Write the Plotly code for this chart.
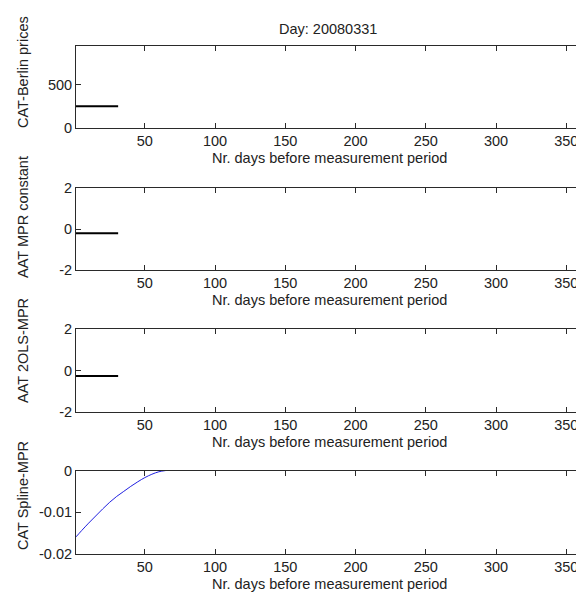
import plotly.graph_objects as go
from plotly.subplots import make_subplots

# ---- data ----
title_text = "Day: 20080331"
x_label = "Nr. days before measurement period"
y_labels = ["CAT-Berlin prices", "AAT MPR constant", "AAT 2OLS-MPR", "CAT Spline-MPR"]

price_days = [1, 31]
price_vals = [252, 252]

aat_const_days = [1, 31]
aat_const_vals = [-0.21, -0.21]

aat_2ols_days = [1, 31]
aat_2ols_vals = [-0.26, -0.26]

spline_days = [1, 5, 10, 15, 20, 25, 30, 35, 40, 45, 50, 55, 60, 65]
spline_vals = [-0.0159, -0.0144, -0.0126, -0.0109, -0.0092, -0.0076, -0.0062,
               -0.0050, -0.0038, -0.0027, -0.0017, -0.0009, -0.0003, 0.0]

y_ranges = [[0, 950], [-2, 2], [-2, 2], [-0.02, 0]]
y_ticks = [[0, 500], [-2, 0, 2], [-2, 0, 2], [-0.02, -0.01, 0]]
y_ticktext = [["0", "500"], ["-2", "0", "2"], ["-2", "0", "2"], ["-0.02", "-0.01", "0"]]
x_ticks = [50, 100, 150, 200, 250, 300, 350]

# ---- layout geometry (pixels) ----
W, H = 576, 593
L = 76
panel_px = [(46, 128), (188, 270), (329, 412), (470.5, 554)]
ylabel_centers = [72, 217, 351, 496]
FONT = "Liberation Sans, Arial, sans-serif"
FS = 14.5
TXT = "#222222"
AX = "#2a2a2a"

def py(p):
    return 1 - p / H

def px(p):
    return (p - L) / (W - L)

fig = make_subplots(rows=4, cols=1)

series = [
    (price_days, price_vals, "black", 2, "linear"),
    (aat_const_days, aat_const_vals, "black", 2, "linear"),
    (aat_2ols_days, aat_2ols_vals, "black", 2, "linear"),
    (spline_days, spline_vals, "#2020e0", 1, "spline"),
]
for i, (xs, ys, col, w, shp) in enumerate(series):
    fig.add_trace(go.Scatter(x=xs, y=ys, mode="lines",
                             line=dict(color=col, width=w, shape=shp),
                             showlegend=False),
                  row=i + 1, col=1)

annotations = []
for i in range(4):
    top, bot = panel_px[i]
    xa = "xaxis" if i == 0 else f"xaxis{i+1}"
    ya = "yaxis" if i == 0 else f"yaxis{i+1}"
    fig.layout[xa].update(
        domain=[0, 1], range=[1, 1 + (W - L) / 1.4047], automargin=False,
        tickvals=x_ticks, ticktext=[str(v) for v in x_ticks],
        ticklabeloverflow="allow",
        ticks="inside", ticklen=5, tickcolor=AX, tickwidth=1,
        showline=True, linecolor=AX, linewidth=1, mirror="ticks",
        showgrid=False, zeroline=False,
        tickfont=dict(family=FONT, size=FS, color=TXT),
    )
    fig.layout[ya].update(
        domain=[py(bot), py(top)], range=y_ranges[i], automargin=False,
        tickvals=y_ticks[i], ticktext=y_ticktext[i],
        ticks="inside", ticklen=5, tickcolor=AX, tickwidth=1,
        showline=True, linecolor=AX, linewidth=1, mirror=False,
        showgrid=False, zeroline=False,
        tickfont=dict(family=FONT, size=FS, color=TXT),
    )
    annotations.append(dict(text=x_label, xref="paper", yref="paper",
                            x=px(329), y=py(bot + 30), showarrow=False,
                            xanchor="center", yanchor="middle",
                            font=dict(family=FONT, size=FS, color=TXT)))
    annotations.append(dict(text=y_labels[i], xref="paper", yref="paper",
                            x=px(23), y=py(ylabel_centers[i]), showarrow=False,
                            textangle=-90, xanchor="center", yanchor="middle",
                            font=dict(family=FONT, size=FS, color=TXT)))

annotations.append(dict(text=title_text, xref="paper", yref="paper",
                        x=px(327.5), y=py(28.5), showarrow=False,
                        xanchor="center", yanchor="middle",
                        font=dict(family=FONT, size=FS, color=TXT)))

fig.update_layout(
    width=W, height=H,
    margin=dict(l=L, r=0, t=0, b=0, autoexpand=False),
    paper_bgcolor="white", plot_bgcolor="white",
    annotations=annotations,
    showlegend=False,
)

fig.write_html("out.html",
               config={"displayModeBar": False},
               post_script="document.body.style.margin='0';document.body.style.overflow='hidden';")
